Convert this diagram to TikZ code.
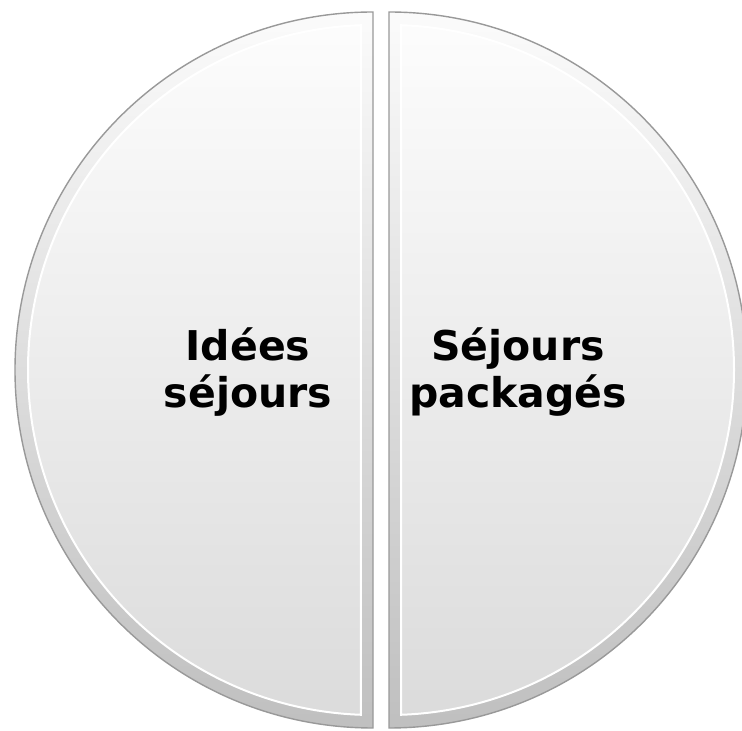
\documentclass[tikz,border=0pt]{standalone}
\usepackage{fontspec}
\setmainfont{DejaVu Sans}
\begin{document}
\begin{tikzpicture}[x=1pt,y=1pt,
  outerhalf/.style={top color=gray!3, bottom color=gray!50, draw=gray!80, line width=1.4pt},
  innerhalf/.style={top color=gray!2, bottom color=gray!28, draw=white, line width=2pt},
  label/.style={font=\fontsize{41}{47}\selectfont\bfseries, align=center, text=black, inner sep=0pt}]
\useasboundingbox (0,0) rectangle (742,731);
\fill[white] (0,0) rectangle (742,731);
% left half
\shade[outerhalf] (373,719) arc[start angle=90, end angle=270, radius=358pt] -- cycle;
\shade[innerhalf] (373,361) ++(92:345pt) arc[start angle=92, end angle=268, radius=345pt] -- cycle;
% right half
\shade[outerhalf] (389,719) arc[start angle=90, end angle=-90, radius=358pt] -- cycle;
\shade[innerhalf] (389,361) ++(88:345pt) arc[start angle=88, end angle=-88, radius=345pt] -- cycle;
\node[label] (left) at (248,359) {Idées\\séjours};
\node[label] (right) at (518,359) {Séjours\\packagés};
\end{tikzpicture}
\end{document}
